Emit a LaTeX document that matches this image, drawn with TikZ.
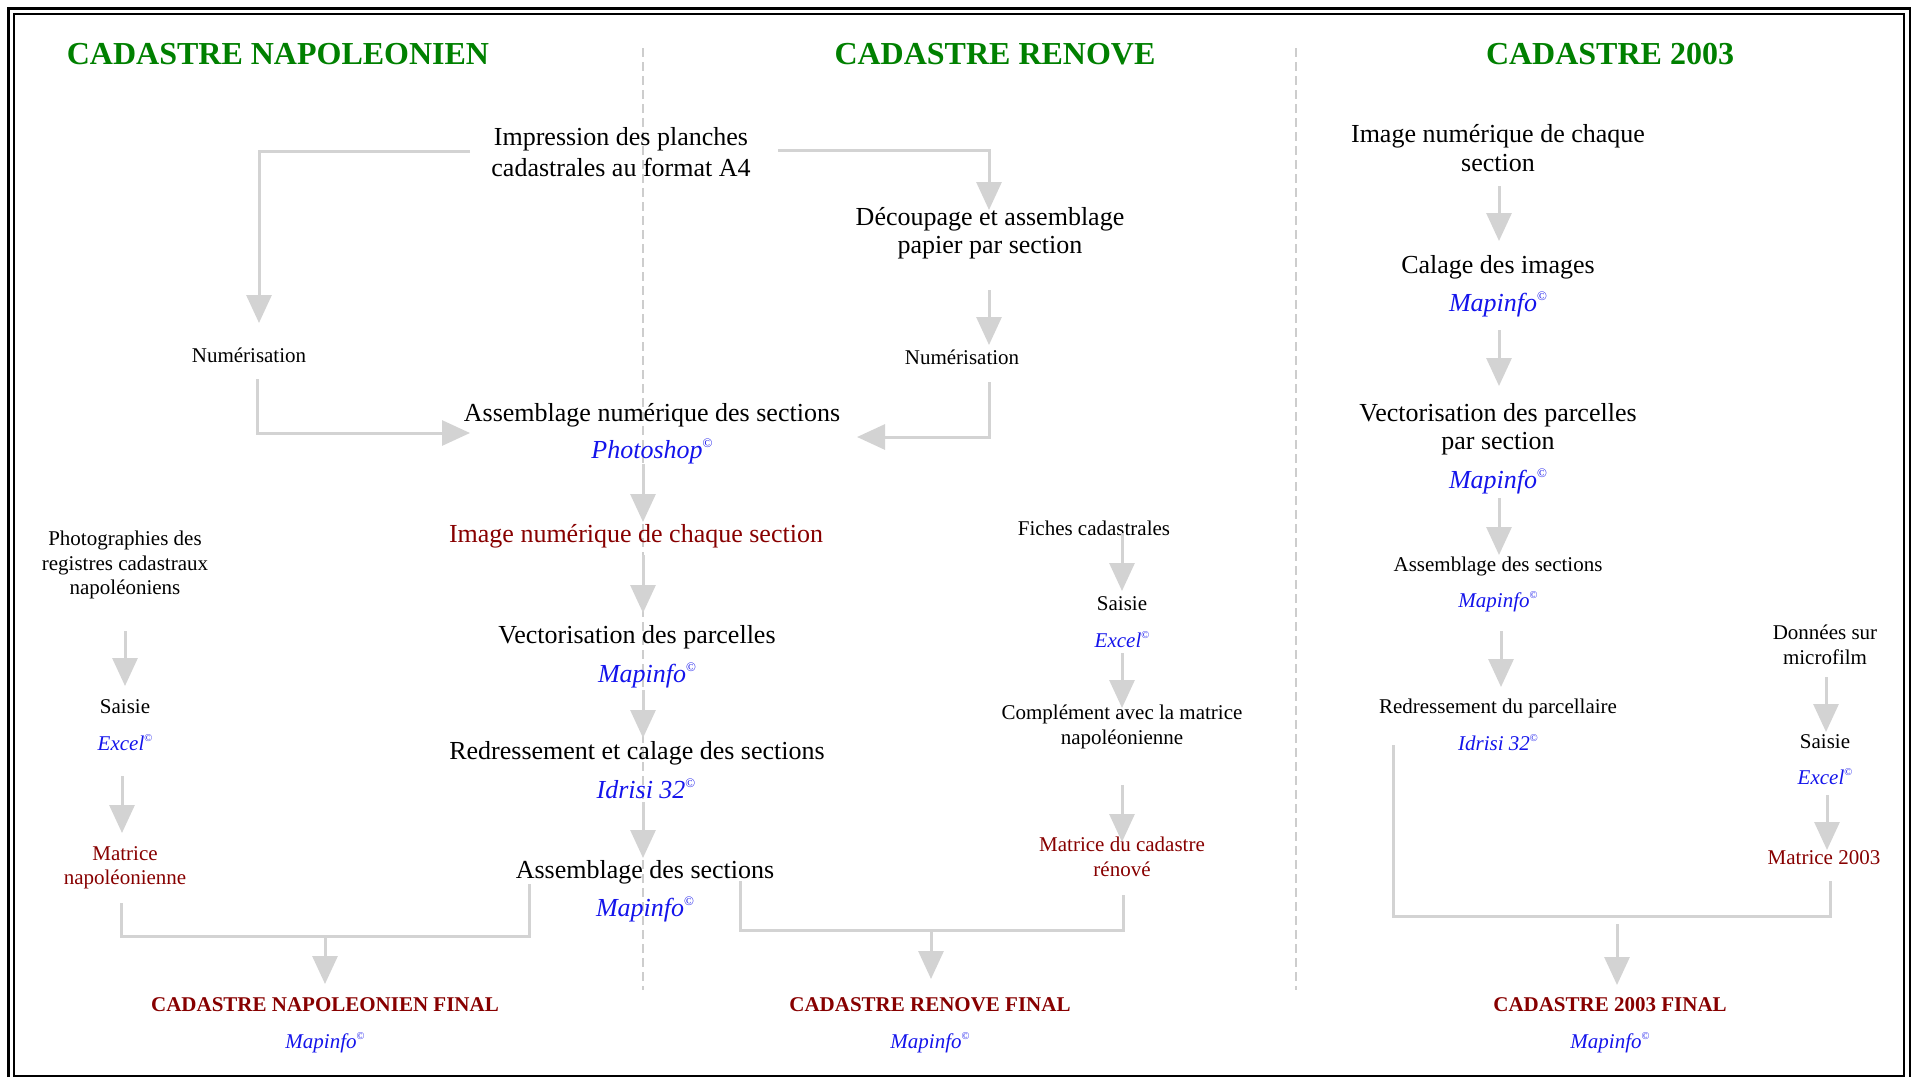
\documentclass[tikz,border=0pt]{standalone}
\usepackage{fontspec}
\setmainfont{Liberation Serif}
\usepackage{graphicx}
\usetikzlibrary{arrows.meta}
\definecolor{hdrgreen}{RGB}{0,128,0}
\definecolor{darkred}{RGB}{135,0,0}
\definecolor{softblue}{RGB}{20,20,235}
\definecolor{arrgray}{RGB}{211,211,211}
\definecolor{sepgray}{RGB}{205,205,205}
\newcommand\cpr{\raisebox{0.42em}{\scalebox{0.5}{\upshape ©}}}
\begin{document}
\begin{tikzpicture}[x=1pt,y=-1pt,
  every node/.style={inner sep=0pt,outer sep=0pt},
  big/.style={font=\fontsize{26}{28.5}\selectfont,align=center,text=black},
  small/.style={font=\fontsize{21}{24.5}\selectfont,align=center,text=black},
  hdr/.style={font=\fontsize{32}{36}\selectfont\bfseries,text=hdrgreen},
  fin/.style={font=\fontsize{21}{24}\selectfont\bfseries,text=darkred},
  soft/.style={font=\fontsize{26}{28}\selectfont\itshape,text=softblue},
  softs/.style={font=\fontsize{21}{24}\selectfont\itshape,text=softblue},
  garrow/.style={draw=arrgray,line width=3pt,-{Triangle[width=25pt,length=28pt]}},
  glink/.style={draw=arrgray,line width=3pt},
  sepline/.style={draw=sepgray,line width=1.2pt,dash pattern=on 9pt off 5pt}]
\useasboundingbox (0,0) rectangle (1914,1077);
% frame
\draw[line width=2.5pt] (8.5,1077) -- (8.5,8.5) -- (1910,8.5) -- (1910,1077);
\draw[line width=2pt] (14,14) rectangle (1904,1075.5);
% separators
\draw[sepline] (643,48) -- (643,990);
\draw[sepline] (1296,48) -- (1296,990);
% headers
\node[hdr] (h1) at (278,54) {CADASTRE NAPOLEONIEN};
\node[hdr] (h2) at (995,54) {CADASTRE RENOVE};
\node[hdr] (h3) at (1610,54) {CADASTRE 2003};
% column 1
\node[big,font=\fontsize{26}{31}\selectfont] (imp) at (621,152) {Impression des planches\\cadastrales au format A4};
\node[small] (num1) at (249,355) {Numérisation};
\node[big] (dec) at (990,233) {Découpage et assemblage\\papier par section};
\node[small] (num2) at (962,357) {Numérisation};
\node[big] (asm) at (652,415) {Assemblage numérique des sections};
\node[soft] (pshop) at (652,451) {Photoshop\cpr};
\node[big,text=darkred] (img) at (636,536) {Image numérique de chaque section};
\node[big] (vec) at (637,637) {Vectorisation des parcelles};
\node[soft] (map1) at (647,675) {Mapinfo\cpr};
\node[big] (red) at (637,753) {Redressement et calage des sections};
\node[soft] (idr1) at (646,789) {Idrisi 32\cpr};
\node[big] (asm2) at (645,872) {Assemblage des sections};
\node[soft] (map2) at (645,909) {Mapinfo\cpr};
\node[small] (pho) at (125,565) {Photographies des\\registres cadastraux\\napoléoniens};
\node[small] (sai1) at (125,707) {Saisie};
\node[softs] (exc1) at (125,743) {Excel\cpr};
\node[small,text=darkred] (mat1) at (125,868) {Matrice\\napoléonienne};
\node[fin] (fin1) at (325,1005) {CADASTRE NAPOLEONIEN FINAL};
\node[softs] (mf1) at (325,1043) {Mapinfo\cpr};
% column 2
\node[small] (fic) at (1094,528) {Fiches cadastrales};
\node[small] (sai2) at (1122,604) {Saisie};
\node[softs] (exc2) at (1122,640) {Excel\cpr};
\node[small] (comp) at (1122,727) {Complément avec la matrice\\napoléonienne};
\node[small,text=darkred] (mat2) at (1122,857) {Matrice du cadastre\\rénové};
\node[fin] (fin2) at (930,1005) {CADASTRE RENOVE FINAL};
\node[softs] (mf2) at (930,1043) {Mapinfo\cpr};
% column 3
\node[big] (c3img) at (1498,148) {Image numérique de chaque\\section};
\node[big] (cal) at (1498,267) {Calage des images};
\node[soft] (mcal) at (1498,304) {Mapinfo\cpr};
\node[big] (vec3) at (1498,429) {Vectorisation des parcelles\\par section};
\node[soft] (mvec3) at (1498,481) {Mapinfo\cpr};
\node[small] (asm3) at (1498,566) {Assemblage des sections};
\node[softs] (masm3) at (1498,602) {Mapinfo\cpr};
\node[small] (red3) at (1498,708) {Redressement du parcellaire};
\node[softs] (idr3) at (1498,743) {Idrisi 32\cpr};
\node[small] (don) at (1825,645) {Données sur\\microfilm};
\node[small] (sai3) at (1825,742) {Saisie};
\node[softs] (exc3) at (1825,777) {Excel\cpr};
\node[small,text=darkred] (mat3) at (1824,858) {Matrice 2003};
\node[fin] (fin3) at (1610,1005) {CADASTRE 2003 FINAL};
\node[softs] (mf3) at (1610,1043) {Mapinfo\cpr};
% connectors column 1
\draw[garrow] ([xshift=-151pt,yshift=1pt]imp.center) -| ([xshift=10pt,yshift=32pt]num1.center);
\draw[garrow] ([xshift=157pt,yshift=2pt]imp.center) -| ([xshift=-1pt,yshift=23pt]dec.center);
\draw[garrow] ([xshift=8pt,yshift=-24pt]num1.center) |- ([xshift=-182pt,yshift=-18pt]asm.center);
\draw[garrow] ([xshift=-1pt,yshift=-57pt]dec.center) -- ([xshift=27pt,yshift=12pt]num2.center);
\draw[garrow] ([xshift=27pt,yshift=-25pt]num2.center) |- ([xshift=205pt,yshift=-22pt]asm.center);
\draw[garrow] ([xshift=-9pt,yshift=-13pt]pshop.center) -- ([xshift=7pt,yshift=14pt]img.center);
\draw[garrow] ([xshift=7pt,yshift=-19pt]img.center) -- ([xshift=6pt,yshift=24pt]vec.center);
\draw[garrow] ([xshift=-4pt,yshift=-15pt]map1.center) -- ([xshift=6pt,yshift=15pt]red.center);
\draw[garrow] ([xshift=-3pt,yshift=-13pt]idr1.center) -- ([xshift=-2pt,yshift=14pt]asm2.center);
\draw[garrow] ([yshift=-66pt]pho.center) -- ([yshift=21pt]sai1.center);
\draw[garrow] ([xshift=-3pt,yshift=-33pt]exc1.center) -- ([xshift=-3pt,yshift=35pt]mat1.center);
\coordinate (j1) at (325,936);
\draw[glink] ([xshift=-4pt,yshift=-35pt]mat1.center) |- (j1) -| ([xshift=-116pt,yshift=-12pt]asm2.center);
\draw[garrow] ([yshift=-2pt]j1) -- ([yshift=21pt]fin1.center);
% connectors column 2
\draw[garrow] ([xshift=28pt,yshift=-5pt]fic.center) -- ([yshift=13pt]sai2.center);
\draw[garrow] ([yshift=-13pt]exc2.center) -- ([yshift=19pt]comp.center);
\draw[garrow] ([yshift=-58pt]comp.center) -- ([yshift=15pt]mat2.center);
\coordinate (j2) at (931,930);
\draw[glink] ([xshift=1pt,yshift=-38pt]mat2.center) |- (j2) -| ([xshift=95pt,yshift=-9pt]asm2.center);
\draw[garrow] ([yshift=-2pt]j2) -- ([xshift=1pt,yshift=26pt]fin2.center);
% connectors column 3
\draw[garrow] ([xshift=1pt,yshift=-38pt]c3img.center) -- ([xshift=1pt,yshift=26pt]cal.center);
\draw[garrow] ([xshift=1pt,yshift=-26pt]mcal.center) -- ([xshift=1pt,yshift=43pt]vec3.center);
\draw[garrow] ([xshift=1pt,yshift=-17pt]mvec3.center) -- ([xshift=1pt,yshift=11pt]asm3.center);
\draw[garrow] ([xshift=3pt,yshift=-29pt]masm3.center) -- ([xshift=3pt,yshift=21pt]red3.center);
\draw[garrow] ([xshift=1pt,yshift=-32pt]don.center) -- ([xshift=1pt,yshift=10pt]sai3.center);
\draw[garrow] ([xshift=2pt,yshift=-18pt]exc3.center) -- ([xshift=3pt,yshift=8pt]mat3.center);
\coordinate (j3) at (1617,916);
\draw[glink] ([xshift=-105pt,yshift=-2pt]idr3.center) |- (j3) -| ([xshift=6pt,yshift=-23pt]mat3.center);
\draw[garrow] ([yshift=-8pt]j3) -- ([xshift=7pt,yshift=20pt]fin3.center);
\end{tikzpicture}
\end{document}
